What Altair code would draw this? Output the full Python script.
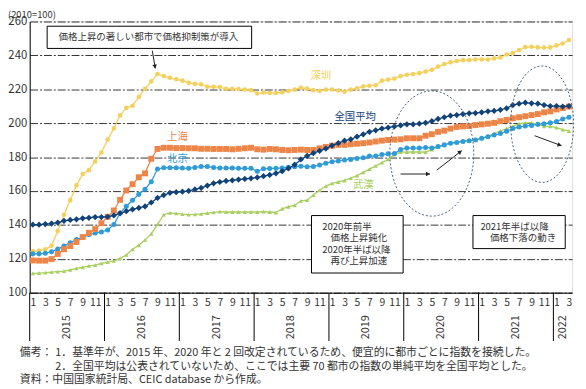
import math
import altair as alt
import pandas as pd

# ---------------- data ----------------
years = ["2015", "2016", "2017", "2018", "2019", "2020", "2021", "2022"]
n_months = 87  # Jan 2015 .. Mar 2022

shenzhen = [124.4, 124.8, 125.6, 127.7, 136.4, 146.0, 154.6, 163.3, 170.0, 172.3, 177.4, 182.7,
            190.3, 196.9, 204.6, 209.0, 210.3, 215.5, 220.3, 224.7, 229.0, 227.8, 226.8, 225.9,
            225.1, 223.8, 223.2, 222.9, 221.5, 221.5, 221.3, 220.3, 220.3, 220.1, 219.8, 219.5,
            217.5, 218.1, 217.8, 217.8, 218.2, 219.0, 219.8, 220.9, 220.4, 219.5, 219.0, 219.8,
            219.8, 219.3, 218.6, 219.8, 220.5, 221.7, 222.1, 222.4, 225.1, 225.7, 226.3, 227.8,
            228.6, 229.0, 229.5, 230.5, 231.5, 233.4, 234.9, 235.9, 236.7, 237.2, 237.2, 237.6,
            237.6, 237.6, 238.2, 238.8, 240.5, 241.4, 243.2, 244.9, 245.1, 244.7, 244.6, 244.7,
            245.9, 247.0, 249.1]

shanghai = [119.0, 118.9, 118.9, 119.8, 122.9, 125.6, 127.5, 129.9, 132.8, 135.3, 137.5, 141.0,
            144.7, 148.5, 154.8, 160.3, 164.0, 168.1, 170.4, 179.0, 184.8, 185.5, 185.5, 185.3,
            185.3, 185.2, 185.2, 184.9, 184.9, 184.8, 184.8, 184.8, 184.6, 184.9, 185.2, 185.5,
            184.6, 184.4, 184.8, 184.6, 184.2, 184.0, 184.2, 184.4, 184.2, 184.2, 185.2, 186.0,
            186.7, 187.2, 187.2, 187.6, 187.9, 188.2, 188.6, 189.2, 189.7, 190.1, 190.3, 190.5,
            191.1, 191.1, 191.1, 192.6, 193.5, 194.9, 195.6, 196.8, 197.8, 198.1, 198.3, 198.9,
            199.3, 199.7, 200.2, 201.2, 201.9, 202.9, 203.5, 204.1, 204.8, 205.4, 206.4, 207.0,
            208.1, 208.9, 209.8]

national = [140.1, 140.1, 140.5, 140.8, 141.4, 142.4, 142.9, 143.3, 143.9, 144.2, 144.6, 144.6,
            144.8, 145.6, 146.8, 148.1, 149.1, 150.0, 150.9, 153.2, 155.9, 157.6, 158.9, 159.3,
            159.6, 160.0, 160.9, 161.8, 163.2, 164.5, 165.3, 165.9, 166.3, 166.7, 167.1, 167.5,
            168.0, 168.7, 169.5, 170.4, 171.7, 173.3, 175.5, 178.6, 180.7, 182.3, 183.7, 185.0,
            186.8, 188.2, 189.7, 190.5, 192.0, 193.4, 194.9, 195.8, 196.8, 197.4, 198.1, 198.7,
            199.3, 199.3, 199.7, 200.2, 201.2, 202.5, 203.5, 204.4, 204.8, 205.4, 205.8, 206.0,
            206.4, 207.0, 207.3, 207.9, 208.8, 210.7, 211.5, 212.1, 211.7, 211.5, 210.7, 210.1,
            210.1, 209.8, 210.1]

beijing = [122.9, 122.9, 123.3, 124.2, 125.7, 127.6, 129.5, 131.3, 132.8, 134.3, 135.2, 135.8,
           137.0, 140.2, 147.0, 151.0, 154.5, 158.0, 161.0, 165.5, 173.0, 173.7, 173.7, 173.7,
           173.5, 173.4, 173.9, 174.4, 174.4, 173.8, 173.6, 173.5, 173.6, 173.4, 173.4, 173.4,
           171.6, 173.1, 173.3, 173.4, 173.6, 174.0, 174.3, 174.6, 174.3, 174.5, 175.3, 176.4,
           177.3, 177.7, 178.3, 178.6, 179.2, 179.6, 180.6, 180.6, 181.5, 181.9, 182.1, 184.4,
           185.3, 185.3, 185.3, 185.7, 185.3, 186.3, 187.2, 188.2, 188.6, 189.2, 189.7, 190.1,
           191.1, 192.0, 193.0, 193.9, 195.3, 196.8, 197.8, 198.3, 198.7, 199.3, 199.7, 200.2,
           201.0, 202.5, 203.5]

wuhan = [111.4, 111.6, 111.8, 112.1, 112.4, 112.7, 113.5, 114.3, 115.0, 115.8, 116.3, 117.3,
         118.0, 118.8, 120.2, 122.3, 125.6, 128.0, 131.1, 134.7, 140.3, 146.0, 147.1, 146.8,
         146.3, 146.0, 146.2, 146.5, 147.0, 147.4, 147.8, 147.6, 147.6, 147.6, 147.6, 147.6,
         147.6, 147.8, 147.6, 147.3, 149.5, 150.7, 151.5, 154.2, 154.6, 157.6, 160.4, 162.9,
         164.5, 165.3, 166.2, 167.6, 169.1, 171.0, 172.9, 174.8, 176.7, 178.6, 181.5, 182.9,
         183.0, 183.0, 183.0, 183.0, 184.4, 185.9, 187.2, 188.2, 188.8, 189.5, 189.7, 190.1,
         191.1, 192.4, 193.9, 195.4, 196.8, 198.1, 199.7, 200.2, 200.2, 199.3, 198.1, 198.1,
         197.4, 196.2, 195.4]

series = [
    # name, values, color, shape, size
    ("深圳", shenzhen, "#F4D05C", "circle", 22),
    ("武漢", wuhan, "#A8CF60", "triangle-up", 20),
    ("北京", beijing, "#2F9BD7", "circle", 26),
    ("上海", shanghai, "#EE8548", "square", 36),
    ("全国平均", national, "#11427A", "diamond", 40),
]

# annotation content (placed in data space)
series_labels = pd.DataFrame({
    "t": ["深圳", "全国平均", "上海", "北京", "武漢"],
    "x": [46.2, 51.7, 23.2, 23.2, 53.0],
    "y": [228.0, 203.9, 191.7, 179.0, 163.7],
    "c": ["#F4D05C", "#11427A", "#EE8548", "#2F9BD7", "#A8CF60"],
})

boxes = pd.DataFrame({
    "x1": [2.3, 44.7, 70.6], "x2": [35.1, 59.4, 85.4],
    "y1": [257.2, 145.5, 145.5], "y2": [244.1, 111.6, 126.0],
})
box_lines = pd.DataFrame({
    "t": ["価格上昇の著しい都市で価格抑制策が導入",
          "2020年前半", "価格上昇鈍化", "2020年半ば以降", "再び上昇加速",
          "2021年半ば以降", "価格下落の動き"],
    "x": [4.13, 46.43, 47.74, 46.43, 47.74, 71.79, 73.32],
    "y": [250.9, 139.0, 132.3, 125.4, 118.7, 139.0, 132.3],
})

ellipses = pd.DataFrame({
    "x": [64.0, 81.7], "y": [182.1, 199.4],
    "shape": ["M -0.67 0 A 0.67 1 0 1 1 0.67 0 A 0.67 1 0 1 1 -0.67 0 Z",
              "M -0.54 0 A 0.54 1 0 1 1 0.54 0 A 0.54 1 0 1 1 -0.54 0 Z"],
    "size": [16129, 13924],
})

arrows = pd.DataFrame({
    "x1": [19.17, 59.0, 64.8, 80.5], "y1": [242.8, 170.0, 172.3, 192.6],
    "x2": [19.64, 63.7, 68.8, 84.8], "y2": [232.3, 170.0, 183.8, 186.7],
})

notes = [
    ("備考：", -10, 61),
    ("1．基準年が、2015 年、2020 年と 2 回改定されているため、便宜的に都市ごとに指数を接続した。", 26, 61),
    ("2．全国平均は公表されていないため、ここでは主要 70 都市の指数の単純平均を全国平均とした。", 26, 75),
    ("資料：中国国家統計局、CEIC database から作成。", -10, 89),
]

# ---------------- layout ----------------
W, H = 550, 275
PX_X = W / 87.0
PX_Y = H / 160.0
FONT = "Noto Sans CJK JP"
TXT = "#333333"

# arrow heads derived from arrow tips
angs, hx, hy = [], [], []
for r in arrows.itertuples():
    dx = (r.x2 - r.x1) * PX_X
    dy = -(r.y2 - r.y1) * PX_Y
    L = math.hypot(dx, dy)
    ux, uy = dx / L, dy / L
    angs.append(math.degrees(math.atan2(dx, -dy)) % 360)
    hx.append(r.x2 - 2.0 * ux / PX_X)
    hy.append(r.y2 + 2.0 * uy / PX_Y)
heads = pd.DataFrame({"x": hx, "y": hy, "ang": angs})

rows = []
for name, vals, col, shp, sz in series:
    for i, v in enumerate(vals):
        rows.append({"i": i, "v": v, "s": name})
df = pd.DataFrame(rows)

xs = alt.Scale(domain=[-0.5, n_months - 0.5], nice=False, zero=False)
ys = alt.Scale(domain=[100, 260], nice=False, zero=False)

xaxis = alt.Axis(values=[i for i in range(n_months) if i % 2 == 0],
                 labelExpr="'' + (datum.value % 12 + 1)",
                 ticks=False, grid=False, domainColor="black", domainWidth=1,
                 labelPadding=5, labelFontSize=10.5, labelColor=TXT, labelFont=FONT,
                 labelOverlap=False, labelBound=False, labelFlush=False, title=None)
yaxis = alt.Axis(values=list(range(100, 261, 20)), grid=True, gridColor="black",
                 gridDash=[8, 2, 2, 2], gridWidth=0.8, ticks=False,
                 domainColor="black", domainWidth=1, labelPadding=3,
                 labelFontSize=11.5, labelColor=TXT, labelFont=FONT, title=None)


def X(f):
    return alt.X(f, type="quantitative", scale=xs, axis=xaxis)


def Y(f):
    return alt.Y(f, type="quantitative", scale=ys, axis=yaxis)


layers = []

# boxes
layers.append(alt.Chart(boxes).mark_rect(fill="white", stroke="black", strokeWidth=1).encode(
    x=X("x1"), x2="x2", y=Y("y1"), y2="y2"))

# series
for name, vals, col, shp, sz in series:
    base = alt.Chart(df).transform_filter(alt.datum.s == name)
    layers.append(base.mark_line(color=col, strokeWidth=1.3).encode(x=X("i"), y=Y("v")))
    layers.append(base.mark_point(shape=shp, size=sz, filled=True, color=col, opacity=1).encode(
        x=X("i"), y=Y("v")))

# series labels
layers.append(alt.Chart(series_labels).mark_text(fontSize=10.5, font=FONT, align="center",
                                                 baseline="middle").encode(
    x=X("x"), y=Y("y"), text="t:N", color=alt.Color("c:N", scale=None)))

# box texts
layers.append(alt.Chart(box_lines).mark_text(fontSize=9.6, font=FONT, align="left",
                                             baseline="middle", color=TXT).encode(
    x=X("x"), y=Y("y"), text="t:N"))

# dashed ellipses
for r in ellipses.itertuples():
    layers.append(alt.Chart(ellipses.iloc[[r.Index]]).mark_point(
        shape=r.shape, size=r.size, filled=False, color="#4A6088", strokeWidth=1,
        strokeDash=[2, 2], opacity=1).encode(x=X("x"), y=Y("y")))

# arrows
layers.append(alt.Chart(arrows).mark_rule(color="#222222", strokeWidth=1).encode(
    x=X("x1"), y=Y("y1"), x2="x2", y2="y2"))
layers.append(alt.Chart(heads).mark_point(shape="triangle-up", size=22, filled=True,
                                          color="#222222", opacity=1).encode(
    x=X("x"), y=Y("y"), angle=alt.Angle("ang:Q", scale=None)))

# year dividers and year labels below the axis
bounds = pd.DataFrame({"b": [-0.5 + 12 * k for k in range(8)]})
layers.append(alt.Chart(bounds).mark_rule(color="black", strokeWidth=1).encode(
    x=X("b"), y=alt.value(H), y2=alt.value(H + 49)))
ycent = pd.DataFrame({"c": [5.5 + 12 * k for k in range(7)] + [85.0], "t": years})
layers.append(alt.Chart(ycent).mark_text(fontSize=11, font=FONT, angle=270, align="center",
                                         baseline="middle", color=TXT).encode(
    x=X("c"), y=alt.value(H + 35), text="t:N"))

one = pd.DataFrame({"a": [0]})
# unit label above the axis
layers.append(alt.Chart(one).mark_text(text="(2010=100)", fontSize=9.5, font=FONT, align="left",
                                       baseline="middle", color=TXT).encode(
    x=alt.value(-22), y=alt.value(-6.5)))

# notes
for t, px, dy in notes:
    layers.append(alt.Chart(one).mark_text(text=t, fontSize=11, font=FONT, align="left",
                                           baseline="middle", color=TXT).encode(
        x=alt.value(px), y=alt.value(H + dy)))

chart = alt.layer(*layers).properties(
    width=W, height=H,
    autosize=alt.AutoSizeParams(type="none"),
    padding={"left": 22, "top": 11, "right": 6, "bottom": 95},
).configure_view(stroke="black", strokeWidth=1).configure(font=FONT)

chart.save("out.html", embed_options={"renderer": "svg", "actions": False})
